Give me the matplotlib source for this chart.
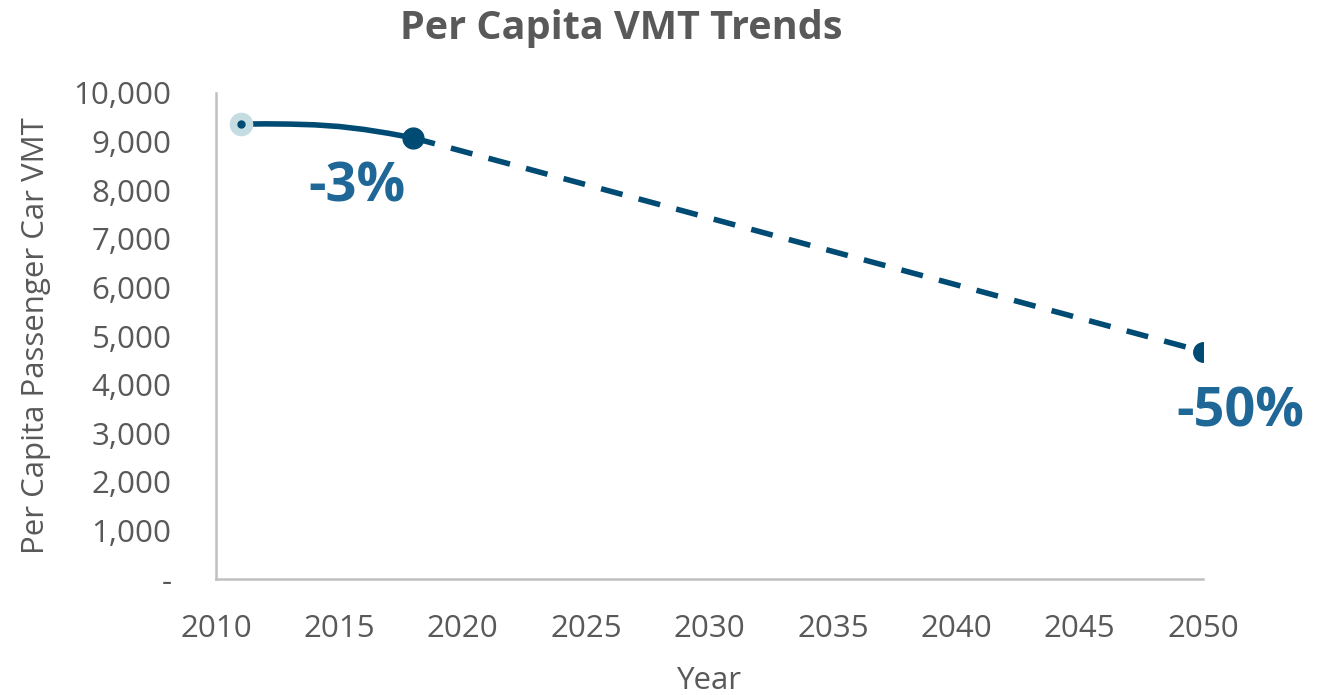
import matplotlib.pyplot as plt
from matplotlib.ticker import FuncFormatter

# Data
hist_years = [2011, 2012, 2013, 2014, 2015, 2016, 2017, 2018]
hist_vmt = [9360, 9365, 9360, 9345, 9310, 9250, 9170, 9075]
proj_years = [2018, 2050]
proj_vmt = [9075, 4680]
x_ticks = [2010, 2015, 2020, 2025, 2030, 2035, 2040, 2045, 2050]
y_ticks = [0, 1000, 2000, 3000, 4000, 5000, 6000, 7000, 8000, 9000, 10000]

navy = '#004b73'
label_blue = '#1f6797'
gray = '#595959'

plt.rcParams['font.family'] = ['Open Sans', 'DejaVu Sans']

fig = plt.figure(figsize=(13.19, 6.95), dpi=100)
ax = fig.add_axes([216 / 1319, 1 - 579 / 695, (1203 - 216) / 1319, (579 - 93) / 695])

ax.plot(hist_years, hist_vmt, color=navy, linewidth=4, solid_capstyle='round', zorder=3)
ax.plot(proj_years, proj_vmt, color=navy, linewidth=4, linestyle=(0, (4, 3)), zorder=3)

# markers
ax.plot(hist_years[0], hist_vmt[0], 'o', markersize=16, color='#c5dde2', zorder=4)
ax.plot(hist_years[0], hist_vmt[0], 'o', markersize=5, color=navy, zorder=5)
ax.plot(hist_years[-1], hist_vmt[-1], 'o', markersize=15, color=navy, zorder=5)
ax.plot(proj_years[-1], proj_vmt[-1], 'o', markersize=14, color=navy, zorder=5)

ax.text(2015.7, 8050, '-3%', color=label_blue, fontsize=39, fontweight='bold',
        ha='center', va='center')
ax.text(2051.5, 3420, '-50%', color=label_blue, fontsize=39, fontweight='bold',
        ha='center', va='center', clip_on=False)

ax.set_xlim(2010, 2050)
ax.set_ylim(0, 10000)
ax.set_xticks(x_ticks)
ax.set_yticks(y_ticks)
ax.yaxis.set_major_formatter(FuncFormatter(lambda v, p: '-' if v == 0 else f'{v:,.0f}'))

for s in ['top', 'right']:
    ax.spines[s].set_visible(False)
for s in ['left', 'bottom']:
    ax.spines[s].set_color('#c0c0c0')
    ax.spines[s].set_linewidth(1.8)

ax.tick_params(axis='both', length=0, labelsize=22.5, labelcolor=gray)
ax.tick_params(axis='y', pad=32)
ax.tick_params(axis='x', pad=25)

ax.set_xlabel('Year', fontsize=22.5, color=gray, labelpad=16)
ax.set_ylabel('Per Capita Passenger Car VMT', fontsize=22.5, color=gray, labelpad=16)
fig.text(621 / 1319, 1 - 29 / 695, 'Per Capita VMT Trends', fontsize=28.5, fontweight='bold',
         color=gray, ha='center', va='center')

fig.savefig('out.png', dpi=100)
